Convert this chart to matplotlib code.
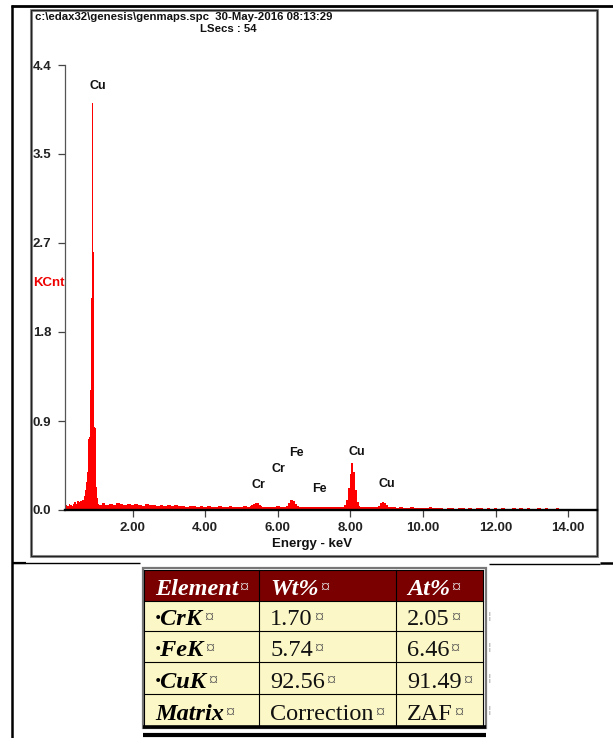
import matplotlib
matplotlib.use('Agg')
import matplotlib.pyplot as plt
import numpy as np
from matplotlib.font_manager import FontProperties
from matplotlib.patches import Rectangle

# ---------------- data ----------------
energy_kev = [
    0.14, 0.18, 0.22, 0.26, 0.30, 0.34, 0.38, 0.42, 0.46, 0.50, 0.54, 0.58, 0.62, 0.64,
    0.68, 0.72, 0.74, 0.76, 0.77, 0.80, 0.82, 0.84, 0.86, 0.87, 0.88, 0.89, 0.90, 0.91,
    0.92, 0.93, 0.94, 0.96, 0.98, 1.00, 1.01, 1.04, 1.07,
    1.1, 1.2, 1.3, 1.4, 1.5, 1.6, 1.7, 1.8, 1.9, 2.0, 2.1, 2.2, 2.3, 2.4, 2.5, 2.6, 2.7,
    2.8, 2.9, 3.0, 3.1, 3.2, 3.3, 3.4, 3.5, 3.6, 3.7, 3.8, 3.9, 4.0, 4.1, 4.2, 4.3, 4.4,
    4.5, 4.6, 4.7, 4.8, 4.9, 5.0, 5.1, 5.2,
    5.25, 5.30, 5.35, 5.40, 5.45, 5.50, 5.55, 5.6, 5.7, 5.8, 5.9, 6.0, 6.1, 6.2,
    6.25, 6.30, 6.35, 6.40, 6.45, 6.50, 6.55, 6.6, 6.7, 6.8, 6.9, 7.0, 7.1, 7.2, 7.3,
    7.4, 7.5, 7.6, 7.7, 7.8,
    7.85, 7.90, 7.95, 8.00, 8.05, 8.10, 8.15, 8.20, 8.25, 8.3, 8.4, 8.5, 8.6, 8.7, 8.8,
    8.85, 8.90, 8.95, 9.00, 9.05, 9.1, 9.2, 9.3, 9.4, 9.5, 9.6, 9.7, 9.8, 9.9, 10.0,
    10.1, 10.2, 10.3, 10.4, 10.5, 10.6, 10.7, 10.8, 10.9, 11.0, 11.1, 11.2, 11.3, 11.4,
    11.5, 11.6, 11.7, 11.8, 11.9, 12.0, 12.1, 12.2, 12.3, 12.4, 12.5, 12.6, 12.7, 12.8,
    12.9, 13.0, 13.1, 13.2, 13.3, 13.4, 13.5, 13.6, 13.7, 13.8, 14.0, 14.8,
]
counts_kcnt = [
    0.03, 0.05, 0.04, 0.06, 0.05, 0.04, 0.06, 0.08, 0.06, 0.09, 0.08, 0.09, 0.10, 0.10,
    0.14, 0.20, 0.28, 0.38, 0.69, 0.70, 0.72, 1.19, 1.22, 2.10, 2.95, 2.95, 4.02, 2.55,
    2.55, 1.30, 0.83, 0.82, 0.81, 0.80, 0.23, 0.12, 0.06,
    0.05, 0.07, 0.05, 0.06, 0.05, 0.07, 0.06, 0.05, 0.06, 0.05, 0.06, 0.05, 0.04, 0.06,
    0.05, 0.05, 0.04, 0.05, 0.04, 0.05, 0.04, 0.05, 0.04, 0.04, 0.03, 0.04, 0.04, 0.03,
    0.04, 0.03, 0.04, 0.03, 0.03, 0.04, 0.03, 0.03, 0.04, 0.03, 0.03, 0.03, 0.04, 0.03,
    0.04, 0.05, 0.06, 0.07, 0.07, 0.05, 0.04, 0.03, 0.03, 0.03, 0.03, 0.04, 0.03, 0.03,
    0.04, 0.07, 0.10, 0.10, 0.09, 0.06, 0.04, 0.03, 0.03, 0.025, 0.03, 0.03, 0.03, 0.025,
    0.03, 0.025, 0.03, 0.025, 0.03, 0.03,
    0.05, 0.10, 0.22, 0.36, 0.46, 0.38, 0.20, 0.08, 0.04, 0.03, 0.025, 0.025, 0.03, 0.025,
    0.04, 0.07, 0.08, 0.07, 0.05, 0.03, 0.025, 0.025, 0.02, 0.025, 0.02, 0.02, 0.025,
    0.02, 0.02, 0.02, 0.02, 0.025, 0.02, 0.02, 0.02, 0.0, 0.02, 0.02, 0.0, 0.02, 0.02,
    0.0, 0.02, 0.0, 0.02, 0.02, 0.0, 0.02, 0.0, 0.02, 0.0, 0.02, 0.0, 0.0, 0.02, 0.0,
    0.02, 0.0, 0.02, 0.0, 0.0, 0.02, 0.0, 0.02, 0.0, 0.0, 0.02, 0.0, 0.0, 0.0,
]

peak_names = ["Cu", "Cr", "Cr", "Fe", "Fe", "Cu", "Cu"]
peak_label_x = [1.04, 5.46, 6.01, 6.50, 7.14, 8.18, 9.00]
peak_label_y = [4.19, 0.25, 0.41, 0.56, 0.21, 0.57, 0.26]

x_ticks = [2, 4, 6, 8, 10, 12, 14]
x_tick_labels = ["2.00", "4.00", "6.00", "8.00", "10.00", "12.00", "14.00"]
y_tick_labels = ["0.0", "0.9", "1.8", "2.7", "3.5", "4.4"]
y_max = 4.4

header_line1 = "c:\\edax32\\genesis\\genmaps.spc  30-May-2016 08:13:29"
header_line2 = "LSecs : 54"
x_label = "Energy - keV"
y_label = "KCnt"

table_header = ["Element", "Wt%", "At%"]
table_rows = [
    ["\u00b7CrK", "1.70", "2.05"],
    ["\u00b7FeK", "5.74", "6.46"],
    ["\u00b7CuK", "92.56", "91.49"],
    ["Matrix", "Correction", "ZAF"],
]
cell_mark = "\u00a4"

# ---------------- fonts ----------------
def sans(size):
    return FontProperties(family=['Liberation Sans', 'DejaVu Sans'], weight='bold', size=size)

SERIF = ['Liberation Serif', 'DejaVu Serif']

W, H = 613, 738
fig = plt.figure(figsize=(W / 100, H / 100), dpi=100)
fig.patch.set_facecolor('white')

# overlay in pixel coordinates
ov = fig.add_axes([0, 0, 1, 1], zorder=0)
ov.set_xlim(0, W)
ov.set_ylim(H, 0)
ov.axis('off')

# ---------------- spectrum axes ----------------
ax = fig.add_axes([65 / W, 1 - 510 / H, (597 - 65) / W, (510 - 65) / H], zorder=2)
ax.patch.set_alpha(0)
ax.fill_between(energy_kev, counts_kcnt, 0, step='mid', color='#ff0000', lw=0)
ax.set_xlim(0.14, 14.79)
ax.set_ylim(0, y_max)
for s in ['top', 'right']:
    ax.spines[s].set_visible(False)
ax.spines['left'].set_color('#555555')
ax.spines['left'].set_linewidth(0.9)
ax.spines['bottom'].set_color('black')
ax.spines['bottom'].set_linewidth(1.7)
ax.spines['bottom'].set_zorder(5)

ax.set_xticks(x_ticks)
ax.set_xticklabels(x_tick_labels, fontproperties=sans(9.5), color='#222222')
ax.set_yticks(np.linspace(0, y_max, len(y_tick_labels)))
ax.set_yticklabels(y_tick_labels, fontproperties=sans(9.5), color='#222222')
ax.tick_params(axis='x', direction='out', length=5, width=0.9, color='#444444', pad=3.5)
ax.tick_params(axis='y', direction='out', length=5, width=0.9, color='#444444', pad=5)

for name, px, py in zip(peak_names, peak_label_x, peak_label_y):
    ax.text(px, py, name, ha='center', va='center', fontproperties=sans(9), color='#111111')

# ---------------- frames / text in pixel coords ----------------
ov.plot([11, W], [5.5, 5.5], color='black', lw=2.0, solid_capstyle='butt')
ov.plot([12, 12], [5, H], color='black', lw=1.8, solid_capstyle='butt')
ov.plot([12, 140], [563.3, 563.3], color='black', lw=1.0, solid_capstyle='butt')
ov.plot([12, 26], [562.8, 562.8], color='black', lw=1.6, solid_capstyle='butt')
ov.plot([489, 600], [564, 564], color='black', lw=1.0, solid_capstyle='butt')
ov.plot([600, W], [563.3, 563.3], color='black', lw=1.8, solid_capstyle='butt')
ov.add_patch(Rectangle((31, 9.5), 566, 546.5, fill=False, edgecolor='#9a9a9a', lw=2.2))
ov.add_patch(Rectangle((31, 9.5), 566, 546.5, fill=False, edgecolor='#222222', lw=1.0))

ov.text(35, 17, header_line1, ha='left', va='center', fontproperties=sans(8.2), color='#111111')
ov.text(200, 29.5, header_line2, ha='left', va='center', fontproperties=sans(8.2), color='#111111')
ov.text(312, 544, x_label, ha='center', va='center', fontproperties=sans(9.5), color='#111111')
ov.text(33, 283, y_label, ha='left', va='center', fontproperties=sans(9.5), color='#ee0000')

# ---------------- table ----------------
col_edges = [144, 259.3, 396, 483]
row_edges = [570, 600.7, 631, 662.3, 694, 725.7]
all_rows = [table_header] + table_rows

fig.canvas.draw()
renderer = fig.canvas.get_renderer()

ov.add_patch(Rectangle((142.5, 567.5), 343, 160, facecolor='none', edgecolor='#777777', lw=1.6))
for r, row in enumerate(all_rows):
    y0, y1 = row_edges[r], row_edges[r + 1]
    for c, val in enumerate(row):
        x0, x1 = col_edges[c], col_edges[c + 1]
        face = '#7a0000' if r == 0 else '#fcf7c6'
        ov.add_patch(Rectangle((x0, y0), x1 - x0, y1 - y0, facecolor=face, edgecolor='none'))
        if r == 0:
            color, weight, style = 'white', 'bold', 'italic'
        elif c == 0:
            color, weight, style = 'black', 'bold', 'italic'
        else:
            color, weight, style = '#111111', 'normal', 'normal'
        t = ov.text(x0 + 11, y1 - 6, val, ha='left', va='baseline', fontfamily=SERIF,
                    fontsize=17.5, fontweight=weight, fontstyle=style, color=color)
        bb = t.get_window_extent(renderer=renderer)
        mark_color = '#e6e6e6' if r == 0 else '#555555'
        ov.text(bb.x1 + 1, y1 - 8, cell_mark, ha='left', va='baseline', fontfamily=SERIF,
                fontsize=13, color=mark_color)
    if r > 0:
        ov.text(488, (y0 + y1) / 2, '\u00a6', ha='left', va='center', fontsize=8, color='#999999')

for x in col_edges:
    ov.plot([x, x], [row_edges[0], row_edges[-1]], color='black', lw=0.8)
for y in row_edges[:-1]:
    ov.plot([col_edges[0], col_edges[-1]], [y, y], color='black', lw=0.8)
ov.plot([143, 486], [726.5, 726.5], color='black', lw=2.6, solid_capstyle='butt')
ov.plot([143, 486], [735, 735], color='black', lw=3.0, solid_capstyle='butt')

fig.savefig('out.png', dpi=100)
